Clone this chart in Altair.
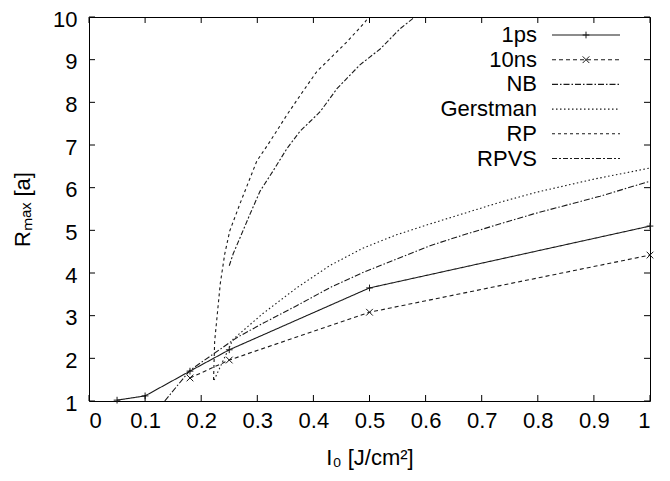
import altair as alt
import pandas as pd

# ---------------- data ----------------
series_names = ["1ps", "10ns", "NB", "Gerstman", "RP", "RPVS"]

ps1_x = [0.05, 0.10, 0.18, 0.25, 0.50, 1.00]
ps1_y = [1.02, 1.12, 1.70, 2.20, 3.65, 5.10]

ns10_x = [0.18, 0.25, 0.50, 1.00]
ns10_y = [1.54, 1.96, 3.08, 4.42]

nb_x = [0.135, 0.18, 0.264, 0.31, 0.371, 0.43, 0.488, 0.549, 0.608, 0.674, 0.791, 0.911, 1.0]
nb_y = [1.00, 1.72, 2.49, 2.82, 3.24, 3.66, 4.01, 4.33, 4.64, 4.92, 5.38, 5.80, 6.15]

gerstman_x = [0.223, 0.257, 0.31, 0.371, 0.43, 0.488, 0.549, 0.608, 0.733, 0.80, 0.90, 1.0]
gerstman_y = [1.49, 2.45, 3.05, 3.66, 4.18, 4.58, 4.90, 5.15, 5.66, 5.90, 6.20, 6.46]

rp_x = [0.222, 0.224, 0.234, 0.242, 0.251, 0.269, 0.287, 0.299, 0.323, 0.353, 0.381, 0.406, 0.460, 0.492, 0.498]
rp_y = [1.49, 2.40, 3.75, 4.45, 4.99, 5.62, 6.22, 6.62, 7.09, 7.71, 8.25, 8.72, 9.42, 9.88, 10.0]

rpvs_x = [0.250, 0.257, 0.269, 0.287, 0.305, 0.328, 0.353, 0.376, 0.412, 0.442, 0.483, 0.519, 0.554, 0.576, 0.580]
rpvs_y = [4.17, 4.45, 4.82, 5.38, 5.92, 6.39, 6.92, 7.32, 7.78, 8.32, 8.88, 9.25, 9.72, 9.95, 10.0]

x_ticks = [0, 0.1, 0.2, 0.3, 0.4, 0.5, 0.6, 0.7, 0.8, 0.9, 1.0]
y_ticks = [1, 2, 3, 4, 5, 6, 7, 8, 9, 10]

# ---------------- build table ----------------
rows = []
for name, xs, ys in [("1ps", ps1_x, ps1_y), ("10ns", ns10_x, ns10_y), ("NB", nb_x, nb_y),
                     ("Gerstman", gerstman_x, gerstman_y), ("RP", rp_x, rp_y), ("RPVS", rpvs_x, rpvs_y)]:
    for i, (a, b) in enumerate(zip(xs, ys)):
        rows.append({"series": name, "x": a, "y": b, "i": i})
df = pd.DataFrame(rows)

W, H = 561, 384
FONT = "Liberation Sans"
FS = 22
TICK = 6
INK = "#1a1a1a"

dash_range = [[1, 0], [4, 3], [6, 2, 1.5, 2], [1.5, 2.5], [3, 3], [5, 2, 2, 2]]
plus_path = "M-1,0L1,0M0,-1L0,1"
cross_path = "M-1,-1L1,1M-1,1L1,-1"

xscale = alt.Scale(domain=[0, 1], nice=False, zero=False)
yscale = alt.Scale(domain=[1, 10], nice=False, zero=False)

x_axis = alt.Axis(values=x_ticks, format=".1~f", title="I₀  [J/cm²]", ticks=False, domain=False,
                  grid=False, labelPadding=9, titlePadding=16)
y_axis = alt.Axis(values=y_ticks, format="d", title="Rₘₐₓ  [a]", ticks=False, domain=False,
                  grid=False, labelPadding=12, titlePadding=18, labelOffset=2)


def X(field):
    return alt.X(field, scale=xscale, axis=x_axis)


def Y(field):
    return alt.Y(field, scale=yscale, axis=y_axis)


lines = alt.Chart(df).mark_line(clip=True, strokeWidth=1.1, color=INK).encode(
    x=X("x:Q"),
    y=Y("y:Q"),
    strokeDash=alt.StrokeDash("series:N", scale=alt.Scale(domain=series_names, range=dash_range), legend=None),
    detail="series:N",
    order="i:Q",
)

points = alt.Chart(df).transform_filter(
    alt.FieldOneOfPredicate(field="series", oneOf=["1ps", "10ns"])
).mark_point(filled=False, strokeWidth=1, color=INK, size=45, opacity=1).encode(
    x=X("x:Q"),
    y=Y("y:Q"),
    shape=alt.Shape("series:N", scale=alt.Scale(domain=["1ps", "10ns"], range=[plus_path, cross_path]), legend=None),
)

xt = pd.DataFrame({"x": x_ticks})
yt = pd.DataFrame({"y": y_ticks})
ticks_bottom = alt.Chart(xt).mark_rule(color="black", strokeWidth=1).encode(
    x=X("x:Q"), y=alt.value(H), y2=alt.value(H - TICK))
ticks_top = alt.Chart(xt).mark_rule(color="black", strokeWidth=1).encode(
    x=X("x:Q"), y=alt.value(0), y2=alt.value(TICK))
ticks_left = alt.Chart(yt).mark_rule(color="black", strokeWidth=1).encode(
    y=Y("y:Q"), x=alt.value(0), x2=alt.value(TICK))
ticks_right = alt.Chart(yt).mark_rule(color="black", strokeWidth=1).encode(
    y=Y("y:Q"), x=alt.value(W - TICK), x2=alt.value(W))

# ---------------- gnuplot-style key ----------------
key_layers = []
KEY_TEXT_X, KEY_L0, KEY_L1 = 448, 463, 531
for k, name in enumerate(series_names):
    py = 18 + 24.7 * k
    one = pd.DataFrame({"name": [name]})
    key_layers.append(alt.Chart(one).mark_text(align="right", baseline="middle", font=FONT,
                                               fontSize=FS, color="black").encode(
        x=alt.value(KEY_TEXT_X), y=alt.value(py), text="name:N"))
    key_layers.append(alt.Chart(one).mark_rule(color=INK, strokeWidth=1.1,
                                               strokeDash=dash_range[k]).encode(
        x=alt.value(KEY_L0), x2=alt.value(KEY_L1), y=alt.value(py)))
    if name in ("1ps", "10ns"):
        key_layers.append(alt.Chart(one).mark_point(
            shape=plus_path if name == "1ps" else cross_path, filled=False, strokeWidth=1,
            color=INK, size=45, opacity=1).encode(
            x=alt.value((KEY_L0 + KEY_L1) / 2), y=alt.value(py)))

chart = alt.layer(lines, points, ticks_bottom, ticks_top, ticks_left, ticks_right, *key_layers).properties(
    width=W, height=H,
    autosize=alt.AutoSizeParams(type="none"),
    padding={"left": 81, "top": 9, "right": 10, "bottom": 74},
).configure_view(
    stroke="black", strokeWidth=1
).configure_axis(
    labelFont=FONT, titleFont=FONT, labelFontSize=FS, titleFontSize=FS,
    labelColor="black", titleColor="black", titleFontWeight="normal",
)

chart.save("out.html", embed_options={"renderer": "svg", "actions": False})
